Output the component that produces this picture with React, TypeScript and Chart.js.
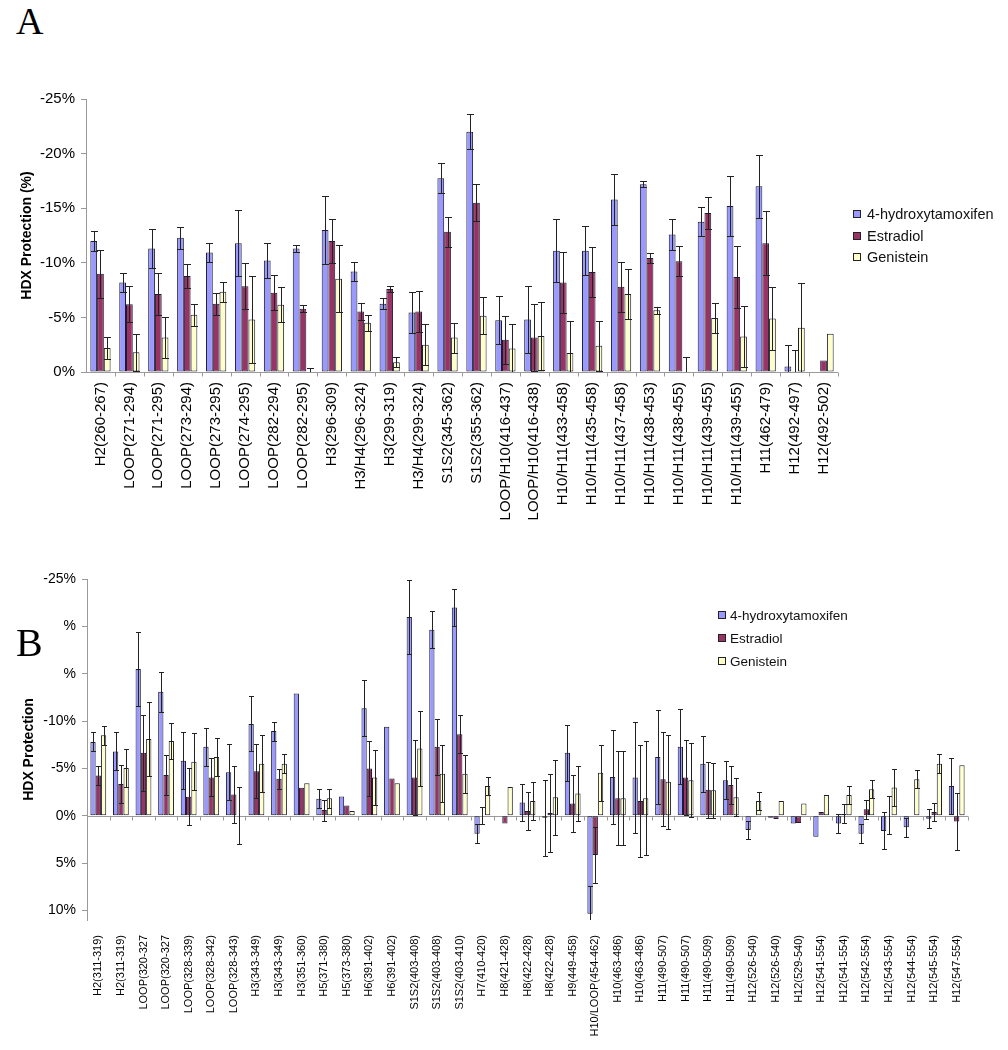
import React, { useEffect, useRef } from "react";
import { Chart, registerables } from "chart.js";

Chart.register(...registerables);

const seriesNames = ["4-hydroxytamoxifen", "Estradiol", "Genistein"];
const seriesColors = ["#9999FF", "#993366", "#FFFFCC"];

// ---------- Panel A ----------
const topLabels = [
  "H2(260-267)", "LOOP(271-294)", "LOOP(271-295)", "LOOP(273-294)", "LOOP(273-295)",
  "LOOP(274-295)", "LOOP(282-294)", "LOOP(282-295)", "H3(296-309)", "H3/H4(296-324)",
  "H3(299-319)", "H3/H4(299-324)", "S1S2(345-362)", "S1S2(355-362)", "LOOP/H10(416-437)",
  "LOOP/H10(416-438)", "H10/H11(433-458)", "H10/H11(435-458)", "H10/H11(437-458)",
  "H10/H11(438-453)", "H10/H11(438-455)", "H10/H11(439-455)", "H10/H11(439-455)",
  "H11(462-479)", "H12(492-497)", "H12(492-502)",
];
const topHydroxy = [-12.0, -8.2, -11.3, -12.3, -10.95, -11.8, -10.2, -11.3, -13.0, -9.2, -6.25, -5.45, -17.75, -22.0, -4.75, -4.8, -11.1, -11.1, -15.8, -17.2, -12.6, -13.75, -15.2, -17.0, -0.5, null];
const topHydroxyErr = [0.95, 0.9, 1.8, 1.0, 0.9, 3.0, 1.6, 0.35, 3.1, 0.85, 0.5, 1.9, 1.37, 1.6, 2.2, 3.05, 2.9, 2.25, 2.3, 0.3, 1.4, 1.34, 2.75, 2.87, 2.0, 0];
const topEstradiol = [-9.0, -6.2, -7.15, -8.8, -6.25, -7.85, -7.25, -5.8, -12.0, -5.55, -7.6, -5.55, -12.85, -15.5, -2.95, -3.15, -8.2, -9.15, -7.8, -10.45, -10.15, -14.55, -8.7, -11.8, -0.06, -1.05];
const topEstradiolErr = [2.2, 1.65, 1.9, 1.1, 1.0, 2.1, 1.6, 0.3, 2.0, 0.76, 0.3, 1.85, 1.37, 1.7, 2.2, 3.08, 2.8, 2.3, 2.3, 0.45, 1.37, 1.47, 2.83, 2.9, 2.0, 0];
const topGenistein = [-2.2, -1.8, -3.15, -5.25, -7.35, -4.8, -6.15, -0.05, -8.55, -4.5, -0.9, -2.5, -3.15, -5.15, -2.15, -3.3, -1.75, -2.4, -7.15, -5.65, 0, -4.95, -3.25, -4.9, -4.05, -3.5];
const topGenisteinErr = [1.0, 1.7, 1.9, 1.0, 0.9, 4.0, 1.6, 0.3, 3.1, 0.76, 0.45, 1.86, 1.37, 1.7, 2.2, 3.1, 2.9, 2.3, 2.3, 0.3, 1.37, 1.34, 2.8, 2.9, 4.1, 0];
const topTicks = [-25, -20, -15, -10, -5, 0];

// ---------- Panel B ----------
const bottomLabels = [
  "H2(311-319)", "H2(311-319)", "LOOP(320-327", "LOOP(320-327", "LOOP(328-339)",
  "LOOP(328-342)", "LOOP(328-343)", "H3(343-349)", "H3(343-349)", "H3(351-360)",
  "H5(371-380)", "H5(373-380)", "H6(391-402)", "H6(391-402)", "S1S2(403-408)",
  "S1S2(403-408)", "S1S2(403-410)", "H7(410-420)", "H8(421-428)", "H8(422-428)",
  "H8(422-428)", "H9(449-458)", "H10/LOOP(454-462)", "H10(463-486)", "H10(463-486)",
  "H11(490-507)", "H11(490-507)", "H11(490-509)", "H11(490-509)", "H12(526-540)",
  "H12(526-540)", "H12(529-540)", "H12(541-554)", "H12(541-554)", "H12(542-554)",
  "H12(543-554)", "H12(544-554)", "H12(545-554)", "H12(547-554)",
];
const bottomHydroxy = [-7.8, -6.8, -15.5, -13.1, -5.8, -7.3, -4.6, -9.7, -8.95, -12.9, -1.8, -2.05, -11.35, -9.4, -21.0, -19.65, -22.0, 1.9, -0.07, -1.4, 0.2, -6.65, 10.35, -4.1, -4.05, -6.2, -7.3, -5.5, -3.75, 1.5, 0.2, 0.8, 2.2, 0.8, 1.9, 1.6, 1.2, 0.3, -3.15];
const bottomHydroxyErr = [1.0, 2.0, 3.95, 2.1, 3.0, 2.0, 2.95, 2.9, 1.0, 0, 1.0, 0, 2.95, 0, 3.9, 1.95, 1.95, 1.0, 0, 2.0, 4.0, 2.95, 2.95, 4.95, 5.9, 5.0, 3.95, 2.95, 2.0, 1.0, 0, 0, 0, 1.0, 1.0, 1.95, 1.0, 1.0, 2.95];
const bottomEstradiol = [-4.25, -3.35, -6.65, -4.3, -2.0, -4.05, -2.25, -4.7, -3.9, -2.95, -0.6, -1.1, -5.0, -3.95, -4.05, -7.3, -8.6, -0.05, 0.8, -0.5, -0.3, -1.3, 4.15, -1.85, -1.55, -3.85, -4.05, -2.75, -3.25, 0.1, 0.35, 0.75, -0.4, -0.2, -0.7, -0.05, 0, -0.4, 0.6];
const bottomEstradiolErr = [1.0, 2.0, 4.0, 2.1, 3.0, 2.0, 3.0, 2.85, 1.05, 0, 1.1, 0, 2.95, 0, 4.0, 2.95, 2.0, 0.9, 0, 2.0, 4.1, 3.0, 2.95, 4.95, 5.9, 4.95, 4.0, 2.95, 2.0, 0, 0, 0, 0, 1.0, 1.0, 2.0, 0, 0.9, 3.0];
const bottomGenistein = [-8.5, -5.05, -8.1, -7.9, -5.7, -6.2, 0, -5.5, -5.5, -3.45, -1.85, -0.5, -4.05, -3.45, -7.1, -4.45, -4.45, -3.15, -3.05, -1.55, -1.95, -2.35, -4.55, -1.85, -1.85, -3.6, -3.75, -2.7, -1.95, -1.55, -1.55, -1.3, -2.2, -2.2, -2.8, -3.0, -3.85, -5.5, -5.35];
const bottomGenisteinErr = [1.0, 2.0, 3.95, 1.95, 3.0, 2.0, 3.0, 3.0, 1.0, 0, 1.0, 0, 2.95, 0, 3.95, 3.0, 2.0, 0.97, 0, 2.0, 3.95, 2.95, 2.95, 4.95, 6.0, 4.95, 3.9, 2.9, 2.0, 0.95, 0, 0, 0, 0.97, 0.97, 1.95, 0.95, 1.0, 0];
const bottomTicks = [-25, -20, -15, -10, -5, 0, 5, 10];
const bottomHiddenTicks = [-20, -15];

const FONT = '"Liberation Sans", Arial, sans-serif';
const SERIF = '"Liberation Serif", "Times New Roman", serif';

const errorBarsPlugin = {
  id: "errorBars",
  afterDatasetsDraw(chart: any, _args: any, opts: any) {
    const { ctx, chartArea } = chart;
    const yScale = chart.scales.y;
    const cap = opts.cap || 3;
    ctx.save();
    ctx.beginPath();
    ctx.rect(chartArea.left, chartArea.top - 1, chartArea.right - chartArea.left, chartArea.bottom - chartArea.top + 1);
    ctx.clip();
    ctx.strokeStyle = opts.color || "#222";
    ctx.lineWidth = 1;
    chart.data.datasets.forEach((ds: any, i: number) => {
      const meta = chart.getDatasetMeta(i);
      const errs = ds.errors || [];
      meta.data.forEach((el: any, j: number) => {
        const v = ds.data[j];
        const e = errs[j];
        if (v == null || !e) return;
        const x = Math.round(el.x) + 0.5;
        const y1 = Math.round(yScale.getPixelForValue(v - e)) + 0.5;
        const y2 = Math.round(yScale.getPixelForValue(v + e)) + 0.5;
        ctx.beginPath();
        ctx.moveTo(x, y1);
        ctx.lineTo(x, y2);
        ctx.moveTo(x - cap, y1);
        ctx.lineTo(x + cap, y1);
        ctx.moveTo(x - cap, y2);
        ctx.lineTo(x + cap, y2);
        ctx.stroke();
      });
    });
    ctx.restore();
  },
};

const zeroLinePlugin = {
  id: "zeroLine",
  beforeDatasetsDraw(chart: any) {
    const { ctx, chartArea } = chart;
    const y0 = Math.round(chart.scales.y.getPixelForValue(0)) + 0.5;
    const n = chart.data.labels.length;
    const w = (chartArea.right - chartArea.left) / n;
    ctx.save();
    ctx.strokeStyle = "#9a9a9a";
    ctx.lineWidth = 1;
    ctx.beginPath();
    ctx.moveTo(chartArea.left, y0);
    ctx.lineTo(chartArea.right, y0);
    for (let i = 1; i <= n; i++) {
      const x = Math.round(chartArea.left + i * w) + 0.5;
      ctx.moveTo(x, y0);
      ctx.lineTo(x, y0 + 4);
    }
    ctx.stroke();
    ctx.restore();
  },
};

const legendPlugin = {
  id: "boxLegend",
  afterDraw(chart: any, _args: any, opts: any) {
    const { ctx } = chart;
    ctx.save();
    ctx.font = `${opts.fontSize}px ${FONT}`;
    ctx.textBaseline = "middle";
    chart.data.datasets.forEach((ds: any, i: number) => {
      const y = opts.y + i * opts.spacing;
      const b = opts.box;
      ctx.fillStyle = ds.backgroundColor;
      ctx.fillRect(opts.x, Math.round(y - b / 2), b, b);
      ctx.strokeStyle = "#222";
      ctx.lineWidth = 1;
      ctx.strokeRect(opts.x + 0.5, Math.round(y - b / 2) + 0.5, b - 1, b - 1);
      ctx.fillStyle = "#111";
      ctx.fillText(ds.label, opts.textX, y + 1);
    });
    ctx.restore();
  },
};

function makeDatasets(values: any[][], errors: number[][]) {
  return values.map((data, i) => ({
    label: seriesNames[i],
    data,
    errors: errors[i],
    backgroundColor: seriesColors[i],
    borderColor: "#1c1c30",
    borderWidth: 1,
    borderSkipped: false,
    categoryPercentage: 0.7,
    barPercentage: 1.0,
  }));
}

function PanelChart(props: {
  top: number;
  height: number;
  labels: string[];
  values: any[][];
  errors: number[][];
  min: number;
  max: number;
  ticks: number[];
  hidden: number[];
  tickFont: number;
  xFont: number;
  xPad: number;
  yWidth: number;
  xHeight: number;
  padTop: number;
  padRight: number;
  title: string;
  titlePad: number;
  cap: number;
  legend: any;
}) {
  const ref = useRef<HTMLCanvasElement | null>(null);
  useEffect(() => {
    if (!ref.current) return;
    const p = props;
    const chart = new Chart(ref.current, {
      type: "bar",
      data: { labels: p.labels, datasets: makeDatasets(p.values, p.errors) as any },
      options: {
        animation: false,
        responsive: false,
        devicePixelRatio: 1,
        layout: { padding: { left: 0, right: p.padRight, top: p.padTop, bottom: 0 } },
        plugins: {
          legend: { display: false },
          tooltip: { enabled: false },
          errorBars: { cap: p.cap, color: "#222" },
          boxLegend: p.legend,
        } as any,
        scales: {
          x: {
            grid: { display: false, drawTicks: false },
            border: { display: false },
            ticks: {
              autoSkip: false,
              minRotation: 90,
              maxRotation: 90,
              padding: p.xPad,
              color: "#000",
              font: { family: FONT, size: p.xFont },
            },
            afterFit(scale: any) {
              scale.height = p.xHeight;
            },
          },
          y: {
            reverse: true,
            min: p.min,
            max: p.max,
            afterBuildTicks(scale: any) {
              scale.ticks = p.ticks.map((v) => ({ value: v }));
            },
            afterFit(scale: any) {
              scale.width = p.yWidth;
            },
            grid: { display: true, drawOnChartArea: false, drawTicks: true, tickLength: 5, color: "#9a9a9a" },
            border: { display: true, color: "#9a9a9a" },
            ticks: {
              padding: 6,
              color: "#000",
              font: { family: FONT, size: p.tickFont },
              callback: (v: any) => (p.hidden.includes(Number(v)) ? "%" : `${v}%`),
            },
            title: {
              display: true,
              text: p.title,
              color: "#000",
              padding: { top: p.titlePad, bottom: 0 },
              font: { family: FONT, size: 14, weight: "bold" },
            },
          },
        },
      },
      plugins: [zeroLinePlugin, errorBarsPlugin, legendPlugin],
    });
    return () => chart.destroy();
  }, []);
  return (
    <canvas
      ref={ref}
      width={1008}
      height={props.height}
      style={{ position: "absolute", left: 0, top: props.top, width: 1008, height: props.height }}
    />
  );
}

export default function App() {
  return (
    <div style={{ position: "absolute", left: 0, top: 0, width: 1008, height: 1050, background: "#fff", overflow: "hidden" }}>
      <div style={{ position: "absolute", left: 16, top: 2, fontFamily: SERIF, fontSize: 38, lineHeight: "38px" }}>A</div>
      <PanelChart
        top={80}
        height={470}
        labels={topLabels}
        values={[topHydroxy, topEstradiol, topGenistein]}
        errors={[topHydroxyErr, topEstradiolErr, topGenisteinErr]}
        min={-25}
        max={0}
        ticks={topTicks}
        hidden={[]}
        tickFont={15}
        xFont={15}
        xPad={10}
        yWidth={86}
        xHeight={178}
        padTop={19}
        padRight={170}
        title="HDX Protection (%)"
        titlePad={19}
        cap={3.5}
        legend={{ x: 853, textX: 867, y: 134, spacing: 21.5, box: 8, fontSize: 14.5 }}
      />
      <PanelChart
        top={560}
        height={490}
        labels={bottomLabels}
        values={[bottomHydroxy, bottomEstradiol, bottomGenistein]}
        errors={[bottomHydroxyErr, bottomEstradiolErr, bottomGenisteinErr]}
        min={-25}
        max={11}
        ticks={bottomTicks}
        hidden={bottomHiddenTicks}
        tickFont={14}
        xFont={11}
        xPad={15}
        yWidth={87}
        xHeight={130}
        padTop={19}
        padRight={40}
        title="HDX Protection"
        titlePad={21}
        cap={2.5}
        legend={{ x: 718, textX: 730, y: 55, spacing: 23, box: 8, fontSize: 13.5 }}
      />
      <div style={{ position: "absolute", left: 16, top: 623, fontFamily: SERIF, fontSize: 40, lineHeight: "40px" }}>B</div>
    </div>
  );
}
